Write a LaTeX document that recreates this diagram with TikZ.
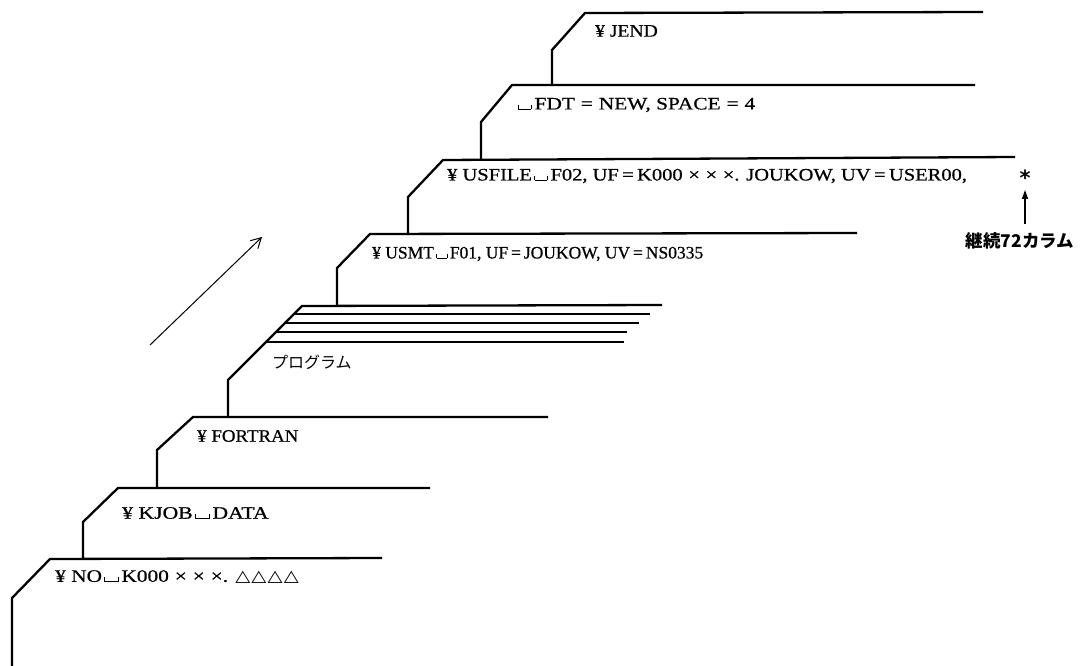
\documentclass[tikz,border=0pt]{standalone}
\usepackage{fontspec}
\setmainfont[FakeBold=0.6]{Liberation Serif}
\newfontfamily\jpfont{Noto Sans CJK JP}
\newfontfamily\symfont{DejaVu Sans}
\usetikzlibrary{arrows.meta}
\newcommand\sqblank{\kern2pt\rule{0.7pt}{0.6ex}\rule{0.6em}{0.7pt}\rule{0.7pt}{0.6ex}\kern2pt}
\newcommand\tri{{\symfont\fontsize{16}{16}\selectfont △}\kern1pt}
\newcommand\hs[2]{\scalebox{#1}[1]{#2}}
\tikzset{
  card/.style={line width=2.3pt, line join=miter},
  cardtext/.style={anchor=west, inner sep=0pt, font=\fontsize{17.5}{19}\selectfont},
  jptext/.style={anchor=west, inner sep=0pt, font=\jpfont\fontsize{16}{17}\selectfont},
}
\begin{document}
\begin{tikzpicture}[x=1pt,y=-1pt]
\useasboundingbox (0,0) rectangle (1080,666);
% corner coordinates
\coordinate (noB) at (12,666);   \coordinate (noD) at (12,598);   \coordinate (noC) at (50,559);   \coordinate (noE) at (382,558);
\coordinate (kjB) at (83,558);   \coordinate (kjD) at (83,522);   \coordinate (kjC) at (118,488);  \coordinate (kjE) at (430,488);
\coordinate (foB) at (157,488);  \coordinate (foD) at (157,450);  \coordinate (foC) at (193,417);  \coordinate (foE) at (548,417);
\coordinate (prB) at (228,417);  \coordinate (prD) at (228,380);  \coordinate (prC) at (302,306);  \coordinate (prE) at (662,305);
\coordinate (usB) at (337,306);  \coordinate (usD) at (337,268);  \coordinate (usC) at (370,234);  \coordinate (usE) at (857,233);
\coordinate (ufB) at (408,234);  \coordinate (ufD) at (408,197);  \coordinate (ufC) at (443,160);  \coordinate (ufE) at (1015,157);
\coordinate (fdB) at (481,160);  \coordinate (fdD) at (481,122);  \coordinate (fdC) at (512,85);   \coordinate (fdE) at (975,85);
\coordinate (jeB) at (552,85);   \coordinate (jeD) at (552,50);   \coordinate (jeC) at (585,13);   \coordinate (jeE) at (983,12);
% cards
\draw[card] (noB) -- (noD) -- (noC) -- (noE);
\draw[card] (kjB) -- (kjD) -- (kjC) -- (kjE);
\draw[card] (foB) -- (foD) -- (foC) -- (foE);
\draw[card] (prB) -- (prD) -- (prC) -- (prE);
\draw[card] (usB) -- (usD) -- (usC) -- (usE);
\draw[card] (ufB) -- (ufD) -- (ufC) -- (ufE);
\draw[card] (fdB) -- (fdD) -- (fdC) -- (fdE);
\draw[card] (jeB) -- (jeD) -- (jeC) -- (jeE);
% program deck lines
\coordinate (p1a) at (294,314); \coordinate (p1b) at (650,314);
\coordinate (p2a) at (285,323); \coordinate (p2b) at (639,323);
\coordinate (p3a) at (276,332); \coordinate (p3b) at (627,332);
\coordinate (p4a) at (266,342); \coordinate (p4b) at (624,342);
\draw[card] (p1a) -- (p1b);
\draw[card] (p2a) -- (p2b);
\draw[card] (p3a) -- (p3b);
\draw[card] (p4a) -- (p4b);
% texts
\node[cardtext] (tje) at (595,31) {\hs{1.12}{¥ JEND}};
\node[cardtext] (tfd) at (515,105) {\hs{1.22}{\sqblank FDT\;=\;NEW, SPACE\;=\;4}};
\node[cardtext] (tuf) at (447,176) {\hs{1.17}{¥ USFILE\sqblank F02, UF\,=\,K000\;×\;×\;×. JOUKOW, UV\,=\,USER00,}};
\node[anchor=center, inner sep=0pt, font=\symfont\bfseries\fontsize{21}{21}\selectfont] (tast) at (1025,178) {*};
\node[cardtext] (tus) at (372,254) {¥ USMT\sqblank F01, UF\,=\,JOUKOW, UV\,=\,NS0335};
\node[jptext] (tpr) at (272,362) {プログラム};
\node[cardtext] (tfo) at (197,436) {\hs{1.08}{¥ FORTRAN}};
\node[cardtext] (tkj) at (122,513) {\hs{1.24}{¥ KJOB\sqblank DATA}};
\node[cardtext] (tno) at (55,577) {\hs{1.22}{¥ NO\sqblank K000\;×\;×\;×. \tri\tri\tri\tri}};
\node[anchor=center, inner sep=0pt, font=\jpfont\bfseries\fontsize{17.5}{18}\selectfont] (tcol) at (1020,241) {継続72カラム};
% arrows
\coordinate (colA) at (1025,224);
\coordinate (colB) at (1025,190);
\draw[line width=1.3pt, -{Triangle[length=9pt,width=6pt]}] (colA) -- (colB);
\coordinate (dirA) at (150,345);
\coordinate (dirB) at (262,237);
\draw[line width=1pt, -{Straight Barb[length=10pt,width=11pt]}] (dirA) -- (dirB);
\end{tikzpicture}
\end{document}
